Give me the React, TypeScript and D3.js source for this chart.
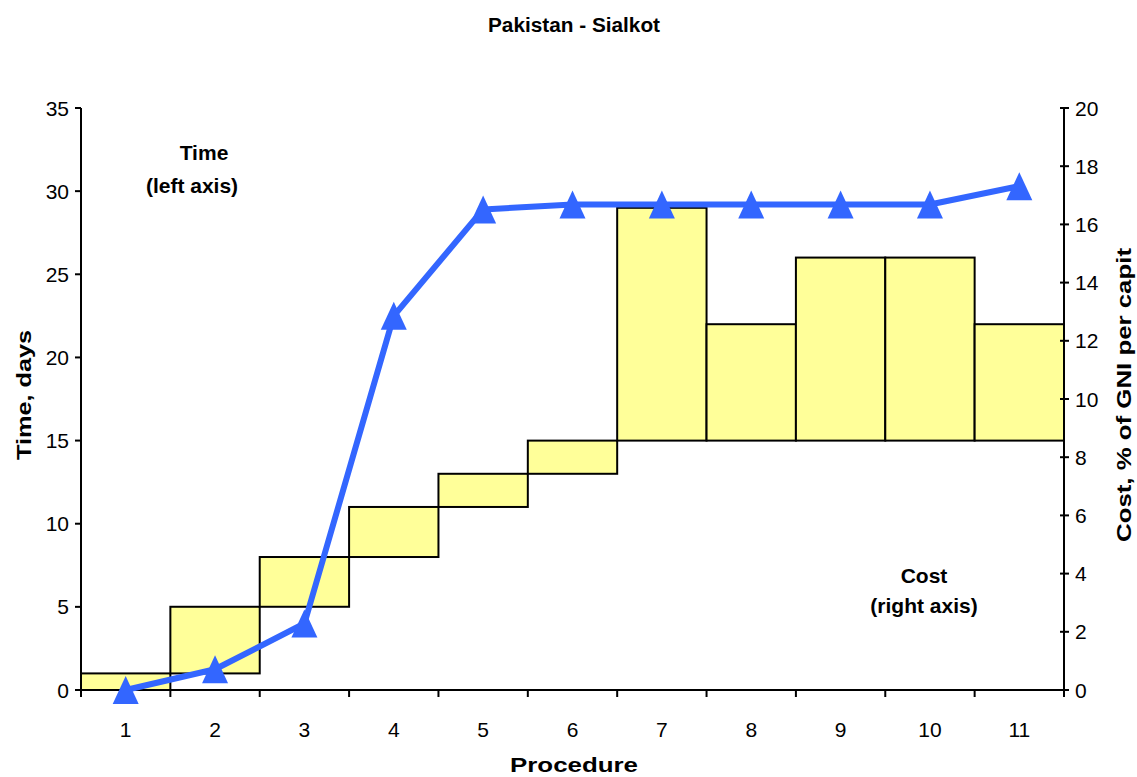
import React from "react";
import * as d3 from "d3";

// Procedures along the horizontal axis
const procedures: string[] = ["1", "2", "3", "4", "5", "6", "7", "8", "9", "10", "11"];

// Cumulative time in days (left axis), one value per procedure
const timeDays: number[] = [0, 1.25, 4.0, 22.5, 28.9, 29.2, 29.2, 29.2, 29.2, 29.2, 30.3];

// Cost, % of GNI per capita (right axis): floating bar bottoms and tops
const costLow: number[] = [0, 0.57, 2.86, 4.57, 6.29, 7.43, 8.57, 8.57, 8.57, 8.57, 8.57];
const costHigh: number[] = [0.57, 2.86, 4.57, 6.29, 7.43, 8.57, 16.57, 12.57, 14.86, 14.86, 12.57];

// Axis tick values
const leftTicks: number[] = [0, 5, 10, 15, 20, 25, 30, 35];
const rightTicks: number[] = [0, 2, 4, 6, 8, 10, 12, 14, 16, 18, 20];

const W = 1137;
const H = 777;
const left = 81;
const right = 1064;
const top = 108;
const bottom = 690;

const FONT = "'Liberation Sans', Arial, Helvetica, sans-serif";
const BLUE = "#3366FF";

export default function App() {
  const x = d3.scaleBand<string>().domain(procedures).range([left, right]).padding(0);
  const yLeft = d3.scaleLinear().domain([0, 35]).range([bottom, top]);
  const yRight = d3.scaleLinear().domain([0, 20]).range([bottom, top]);
  const bw = x.bandwidth();
  const cx = (p: string) => (x(p) as number) + bw / 2;

  const linePath = d3
    .line<number>()
    .x((_, i) => cx(procedures[i]))
    .y((d) => yLeft(d))(timeDays) as string;

  const triW = 26;
  const triH = 28;
  const tri = (px: number, py: number) =>
    `M${px - triW / 2},${py + triH / 2}L${px},${py - triH / 2}L${px + triW / 2},${py + triH / 2}Z`;

  const boundaries = procedures.map((p) => x(p) as number).concat([right]);

  return (
    <svg
      width={W}
      height={H}
      viewBox={`0 0 ${W} ${H}`}
      style={{ position: "absolute", left: 0, top: 0, background: "#fff" }}
      fontFamily={FONT}
    >
      <rect x={0} y={0} width={W} height={H} fill="#fff" />

      {/* Title */}
      <text
        x={574}
        y={32}
        textAnchor="middle"
        fontSize={20}
        fontWeight="bold"
        textLength={172}
        lengthAdjust="spacingAndGlyphs"
      >
        Pakistan - Sialkot
      </text>

      {/* Cost bars */}
      {procedures.map((p, i) => (
        <rect
          key={p}
          x={x(p)}
          y={yRight(costHigh[i])}
          width={bw}
          height={yRight(costLow[i]) - yRight(costHigh[i])}
          fill="#FFFF99"
          stroke="#000"
          strokeWidth={2}
        />
      ))}

      {/* Left axis */}
      <line x1={left} x2={left} y1={top} y2={bottom} stroke="#000" strokeWidth={2} />
      {leftTicks.map((t) => (
        <g key={`l${t}`}>
          <line x1={left - 6} x2={left} y1={yLeft(t)} y2={yLeft(t)} stroke="#000" strokeWidth={2} />
          <text x={69} y={yLeft(t)} dy="0.36em" textAnchor="end" fontSize={21}>
            {t}
          </text>
        </g>
      ))}

      {/* Right axis */}
      <line x1={right} x2={right} y1={top} y2={bottom} stroke="#000" strokeWidth={2} />
      {rightTicks.map((t) => (
        <g key={`r${t}`}>
          <line x1={right - 4} x2={right + 5} y1={yRight(t)} y2={yRight(t)} stroke="#000" strokeWidth={2} />
          <text x={1075} y={yRight(t)} dy="0.36em" textAnchor="start" fontSize={21}>
            {t}
          </text>
        </g>
      ))}

      {/* Category axis */}
      <line x1={left} x2={right} y1={bottom} y2={bottom} stroke="#000" strokeWidth={2} />
      {boundaries.map((b, i) => (
        <line key={`b${i}`} x1={b} x2={b} y1={bottom} y2={bottom + 7} stroke="#000" strokeWidth={2} />
      ))}
      {procedures.map((p) => (
        <text key={`x${p}`} x={cx(p)} y={737} textAnchor="middle" fontSize={21}>
          {p}
        </text>
      ))}

      {/* Time line */}
      <path d={linePath} fill="none" stroke={BLUE} strokeWidth={6} strokeLinejoin="round" />
      {timeDays.map((t, i) => (
        <path key={`m${i}`} d={tri(cx(procedures[i]), yLeft(t))} fill={BLUE} />
      ))}

      {/* Series annotations */}
      <text x={204} y={160} textAnchor="middle" fontSize={21} fontWeight="bold">Time</text>
      <text x={192} y={193} textAnchor="middle" fontSize={21} fontWeight="bold">(left axis)</text>
      <text x={924} y={583} textAnchor="middle" fontSize={21} fontWeight="bold">Cost</text>
      <text x={924} y={613} textAnchor="middle" fontSize={21} fontWeight="bold">(right axis)</text>

      {/* Axis titles */}
      <text
        x={574}
        y={772}
        textAnchor="middle"
        fontSize={21}
        fontWeight="bold"
        textLength={128}
        lengthAdjust="spacingAndGlyphs"
      >
        Procedure
      </text>
      <text
        transform={`translate(31,395) rotate(-90)`}
        textAnchor="middle"
        fontSize={21}
        fontWeight="bold"
        textLength={130}
        lengthAdjust="spacingAndGlyphs"
      >
        Time, days
      </text>
      <text
        transform={`translate(1131,395) rotate(-90)`}
        textAnchor="middle"
        fontSize={21}
        fontWeight="bold"
        textLength={294}
        lengthAdjust="spacingAndGlyphs"
      >
        Cost, % of GNI per capit
      </text>
    </svg>
  );
}
